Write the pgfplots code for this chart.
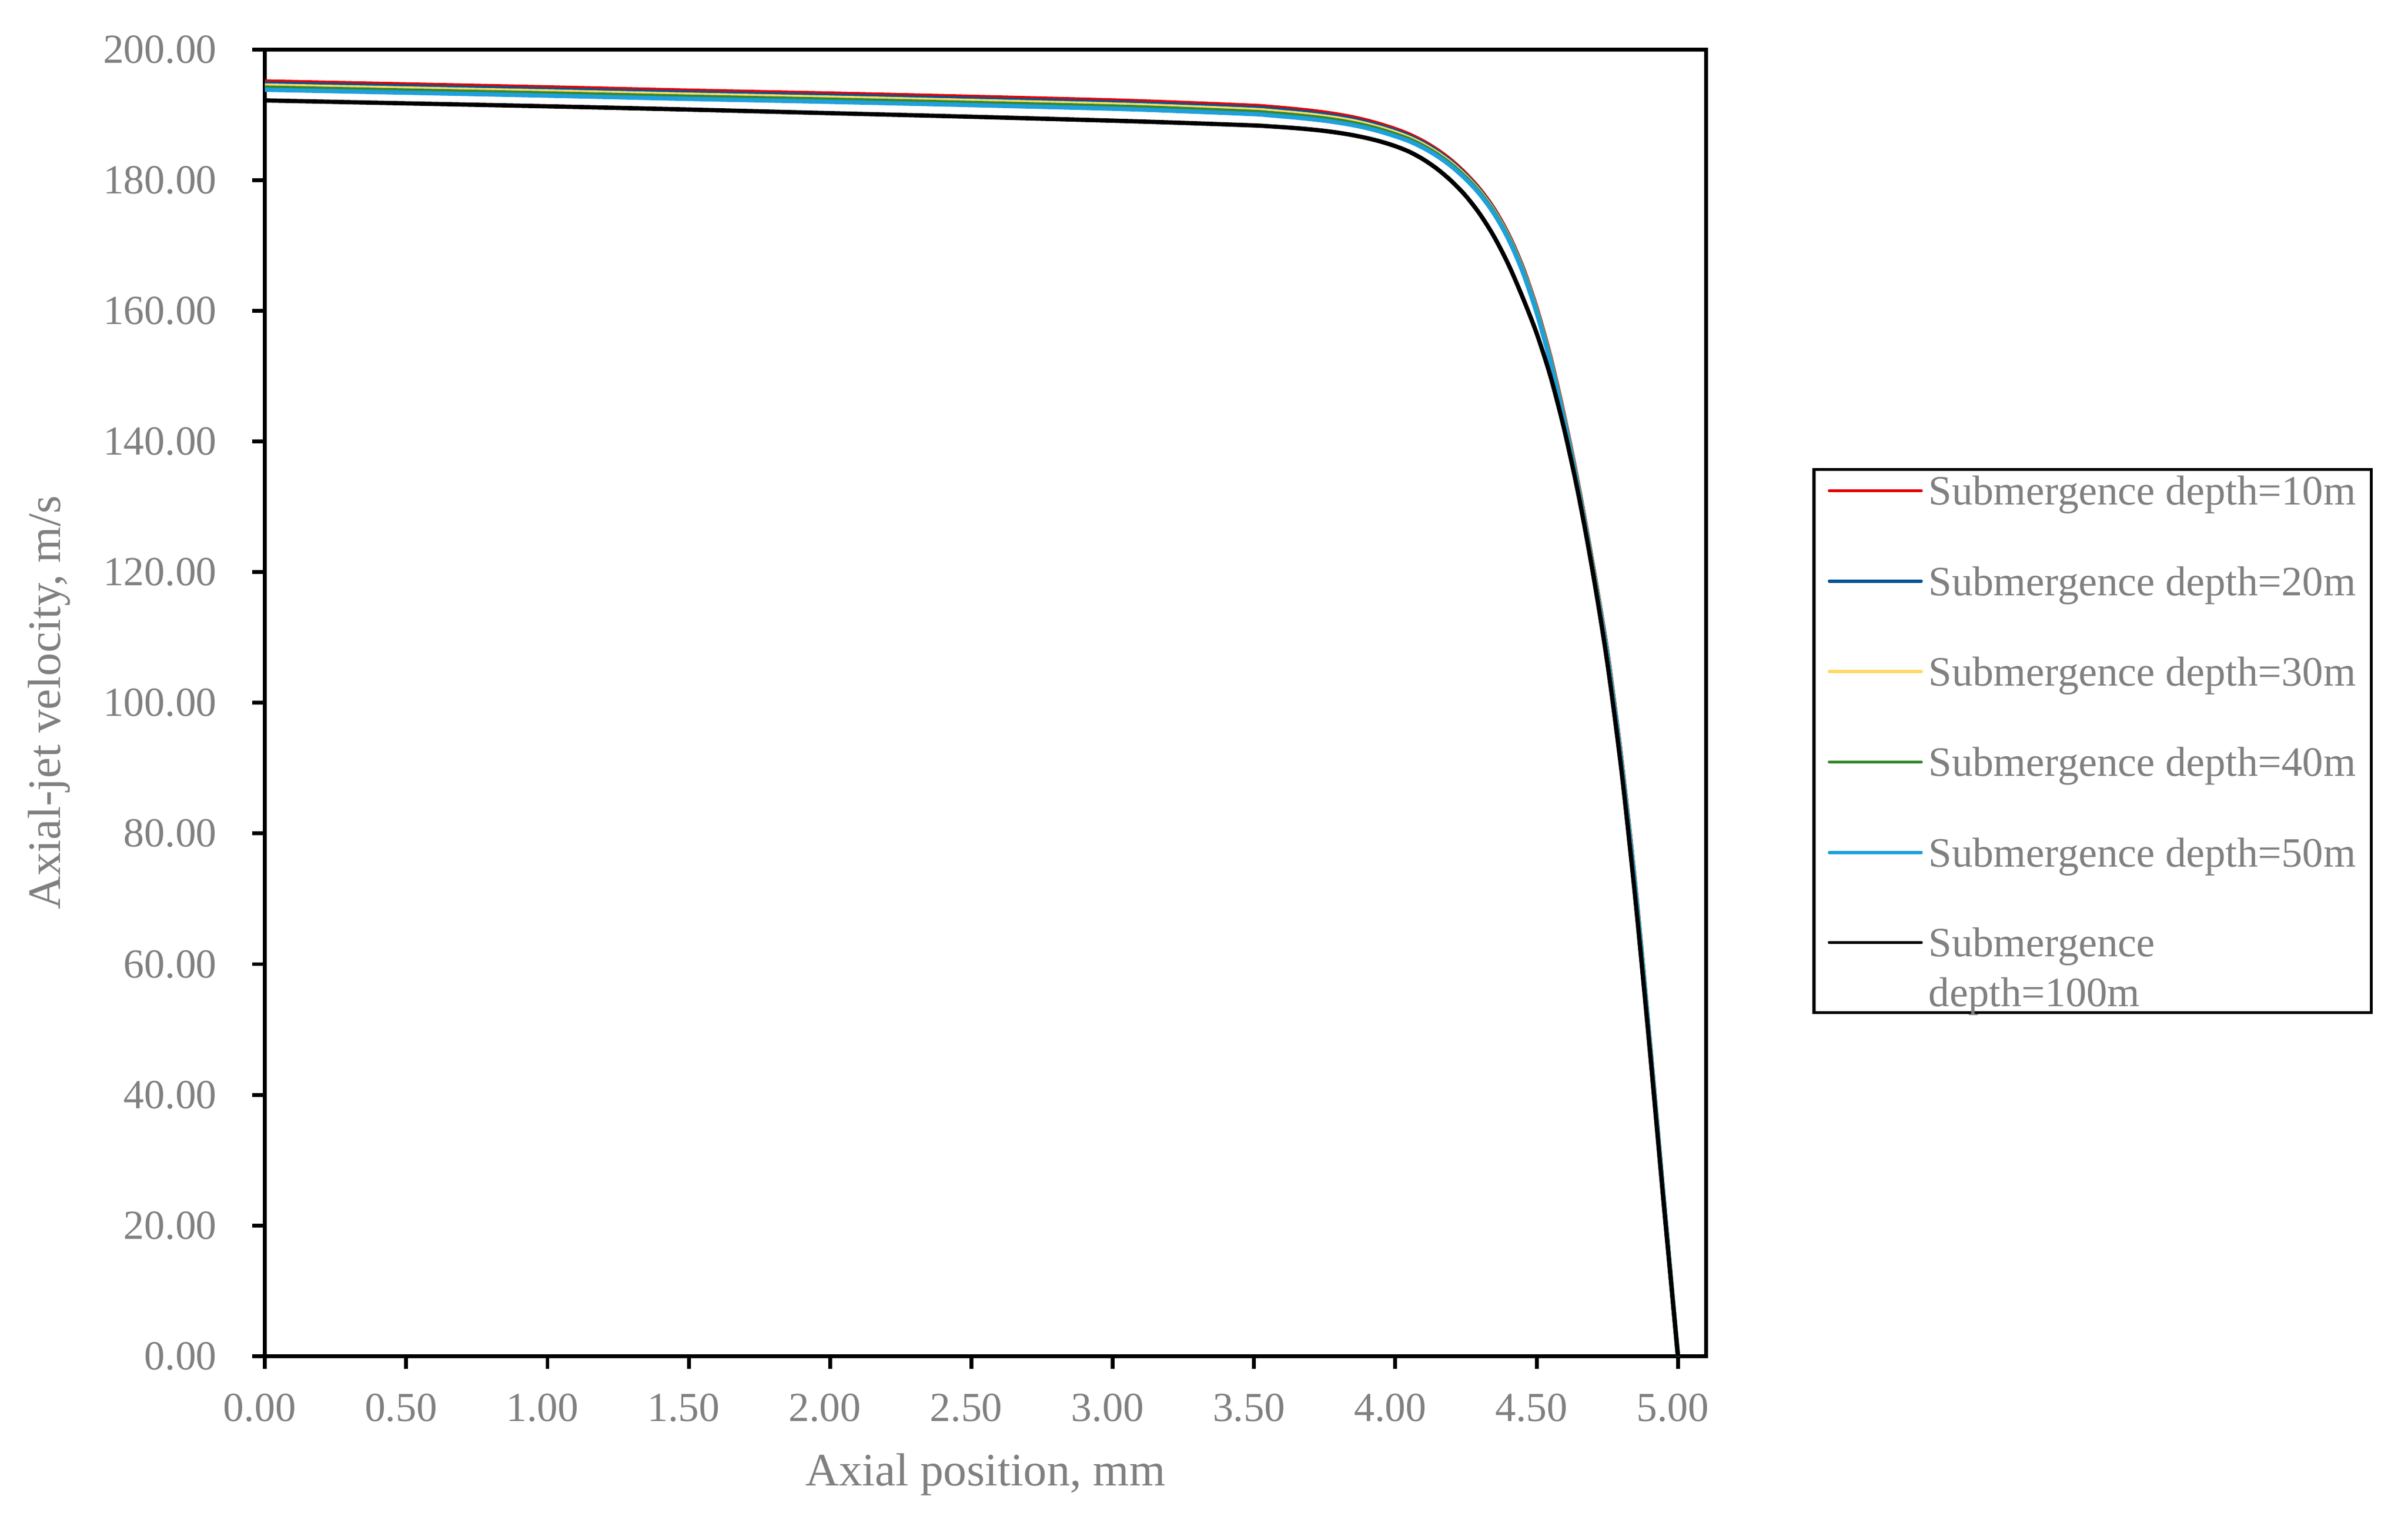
\documentclass[border=0pt]{standalone}
\usepackage{fontspec}
\setmainfont{Liberation Serif}
\usepackage{pgfplots}
\pgfplotsset{compat=1.18}

\definecolor{dRed}{RGB}{230,0,0}
\definecolor{dBlue}{RGB}{0,84,150}
\definecolor{dYellow}{RGB}{255,217,102}
\definecolor{dGreen}{RGB}{53,135,43}
\definecolor{dCyan}{RGB}{31,160,219}
\definecolor{txtgray}{RGB}{128,128,128}

\begin{document}
\begin{tikzpicture}
\useasboundingbox (-61.6pt,-38.7pt) rectangle (498.4pt,315.3pt);
\begin{axis}[
  at={(0pt,0pt)}, anchor=south west,
  scale only axis, width=335.2pt, height=303.8pt,
  xmin=0, xmax=5.1, ymin=0, ymax=200,
  xtick={0,0.5,...,5}, ytick={0,20,...,200},
  tick pos=left, tick align=outside, major tick length=2.9pt,
  axis line style={line width=0.95pt},
  tick style={line width=0.9pt, black},
  ticklabel style={font=\fontsize{9.6}{11}\selectfont, text=txtgray},
  /pgf/number format/.cd, fixed, fixed zerofill, precision=2, assume math mode=true,
  /pgfplots/.cd,
  xticklabel style={anchor=north, inner sep=0pt, yshift=-5.6pt, xshift=-1.2pt},
  yticklabel style={anchor=east, inner sep=0pt, xshift=-8.1pt},
  xlabel={Axial position, mm},
  ylabel={Axial-jet velocity, m/s},
  xlabel style={at={(axis description cs:0.5,-0.0991)}, anchor=base,
    font=\fontsize{10.8}{13}\selectfont, text=txtgray},
  ylabel style={at={(axis description cs:-0.142,0.5)}, anchor=base,
    font=\fontsize{10.8}{13}\selectfont, text=txtgray},
  legend style={
    at={(1.0737,0.6797)}, anchor=north west,
    draw=black, line width=0.73pt, fill=white,
    inner xsep=3.2pt, inner ysep=1pt,
    row sep=11.2pt, column sep=1pt,
    font=\fontsize{9.7}{11.6}\selectfont, text=txtgray,
    nodes={inner xsep=0.4pt, inner ysep=0.5pt, text depth=},
    cells={anchor=base west},
  },
  legend image code/.code={\draw[#1, line width=0.7pt, line cap=round] (0pt,3.3pt) -- (21.4pt,3.3pt);},
  every axis plot/.append style={line width=1pt, smooth},
]

% Submergence depth = 10 m
\addplot[dRed] coordinates {
  (0,195.10) (0.5,194.65) (1,194.20) (1.5,193.70) (2,193.25) (2.5,192.75)
  (3,192.20) (3.25,191.82) (3.50,191.37) (3.55,191.22) (3.60,191.04)
  (3.65,190.84) (3.70,190.61) (3.75,190.34) (3.80,190.01) (3.85,189.61)
  (3.90,189.11) (3.95,188.51) (4.00,187.81) (4.05,186.97) (4.10,185.89)
  (4.15,184.56) (4.20,182.93) (4.25,180.93) (4.30,178.53) (4.35,175.53)
  (4.40,171.68) (4.45,166.73) (4.50,160.40) (4.55,152.70) (4.60,143.35)
  (4.65,132.75) (4.70,120.80) (4.75,107.80) (4.80,91.30) (4.85,71.65)
  (4.90,48.40) (4.95,24.00) (5.00,0)
};
% 20 m
\addplot[dBlue] coordinates {
  (0,194.79) (0.5,194.34) (1,193.89) (1.5,193.39) (2,192.94) (2.5,192.44)
  (3,191.89) (3.25,191.51) (3.50,191.06) (3.55,190.91) (3.60,190.73)
  (3.65,190.53) (3.70,190.30) (3.75,190.04) (3.80,189.71) (3.85,189.32)
  (3.90,188.83) (3.95,188.24) (4.00,187.54) (4.05,186.72) (4.10,185.65)
  (4.15,184.33) (4.20,182.72) (4.25,180.73) (4.30,178.35) (4.35,175.35)
  (4.40,171.51) (4.45,166.56) (4.50,160.22) (4.55,152.51) (4.60,143.15)
  (4.65,132.56) (4.70,120.61) (4.75,107.62) (4.80,91.13) (4.85,71.50)
  (4.90,48.29) (4.95,23.94) (5.00,0)
};
% 30 m
\addplot[dYellow] coordinates {
  (0,194.48) (0.5,194.03) (1,193.58) (1.5,193.08) (2,192.63) (2.5,192.13)
  (3,191.58) (3.25,191.20) (3.50,190.75) (3.55,190.60) (3.60,190.41)
  (3.65,190.22) (3.70,189.99) (3.75,189.73) (3.80,189.41) (3.85,189.03)
  (3.90,188.55) (3.95,187.96) (4.00,187.28) (4.05,186.47) (4.10,185.41)
  (4.15,184.10) (4.20,182.50) (4.25,180.53) (4.30,178.16) (4.35,175.18)
  (4.40,171.34) (4.45,166.38) (4.50,160.05) (4.55,152.33) (4.60,142.96)
  (4.65,132.37) (4.70,120.43) (4.75,107.44) (4.80,90.95) (4.85,71.36)
  (4.90,48.17) (4.95,23.88) (5.00,0)
};
% 40 m
\addplot[dGreen] coordinates {
  (0,194.17) (0.5,193.72) (1,193.27) (1.5,192.77) (2,192.32) (2.5,191.82)
  (3,191.27) (3.25,190.89) (3.50,190.44) (3.55,190.29) (3.60,190.11)
  (3.65,189.91) (3.70,189.69) (3.75,189.43) (3.80,189.12) (3.85,188.74)
  (3.90,188.27) (3.95,187.69) (4.00,187.01) (4.05,186.22) (4.10,185.17)
  (4.15,183.88) (4.20,182.29) (4.25,180.34) (4.30,177.98) (4.35,175.00)
  (4.40,171.17) (4.45,166.21) (4.50,159.87) (4.55,152.15) (4.60,142.77)
  (4.65,132.18) (4.70,120.25) (4.75,107.26) (4.80,90.78) (4.85,71.21)
  (4.90,48.06) (4.95,23.82) (5.00,0)
};
% 50 m
\addplot[dCyan] coordinates {
  (0,193.83) (0.5,193.38) (1,192.93) (1.5,192.43) (2,191.98) (2.5,191.48)
  (3,190.93) (3.25,190.55) (3.50,190.10) (3.55,189.94) (3.60,189.76)
  (3.65,189.57) (3.70,189.35) (3.75,189.10) (3.80,188.79) (3.85,188.42)
  (3.90,187.96) (3.95,187.39) (4.00,186.72) (4.05,185.94) (4.10,184.91)
  (4.15,183.63) (4.20,182.05) (4.25,180.12) (4.30,177.78) (4.35,174.81)
  (4.40,170.98) (4.45,166.02) (4.50,159.68) (4.55,151.94) (4.60,142.55)
  (4.65,131.97) (4.70,120.04) (4.75,107.06) (4.80,90.59) (4.85,71.05)
  (4.90,47.93) (4.95,23.75) (5.00,0)
};
% 100 m
\addplot[black] coordinates {
  (0,192.20) (0.5,191.75) (1,191.30) (1.5,190.80) (2,190.25) (2.5,189.70)
  (3,189.10) (3.25,188.76) (3.50,188.37) (3.55,188.25) (3.60,188.11)
  (3.65,187.95) (3.70,187.76) (3.75,187.53) (3.80,187.24) (3.85,186.88)
  (3.90,186.43) (3.95,185.88) (4.00,185.20) (4.05,184.33) (4.10,183.15)
  (4.15,181.65) (4.20,179.80) (4.25,177.55) (4.30,174.75) (4.35,171.30)
  (4.40,167.10) (4.45,162.10) (4.50,156.55) (4.55,149.80) (4.60,141.40)
  (4.65,131.40) (4.70,119.65) (4.75,106.15) (4.80,89.65) (4.85,69.65)
  (4.90,47.05) (4.95,23.15) (5.00,0)
};

\legend{Submergence depth=10m, Submergence depth=20m, Submergence depth=30m,
  Submergence depth=40m, Submergence depth=50m,
  {\raisebox{0pt}[6.63pt][11.5pt]{\begin{tabular}[t]{@{}l@{}}Submergence\\depth=100m\end{tabular}}}}
\end{axis}
\end{tikzpicture}
\end{document}
